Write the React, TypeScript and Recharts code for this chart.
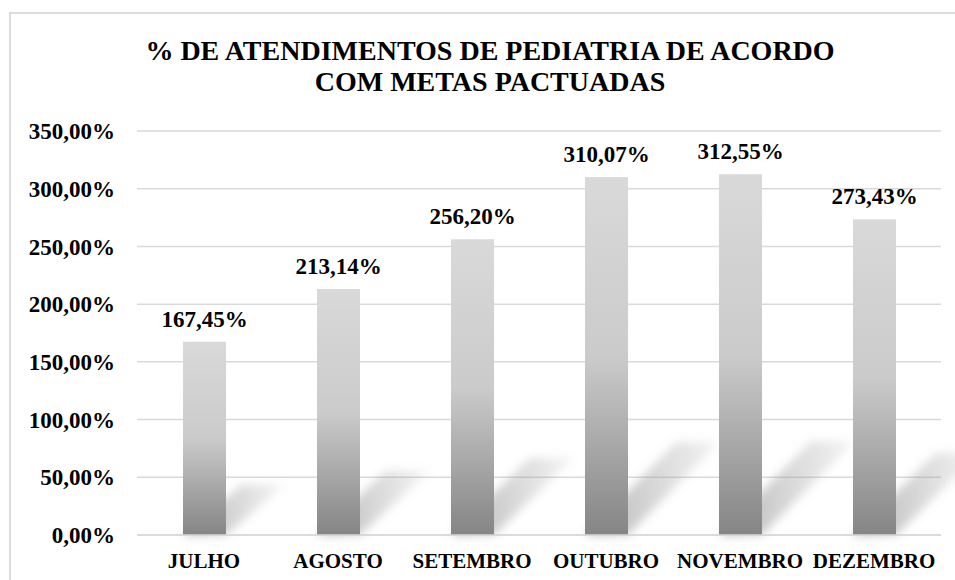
import { BarChart, Bar, XAxis, YAxis, CartesianGrid, LabelList } from 'recharts';

const months = ['JULHO', 'AGOSTO', 'SETEMBRO', 'OUTUBRO', 'NOVEMBRO', 'DEZEMBRO'];
const percentages = [167.45, 213.14, 256.2, 310.07, 312.55, 273.43];
const yTicks = [0, 50, 100, 150, 200, 250, 300, 350];

const data = months.map((month, i) => ({ month, value: percentages[i] }));

const serif = 'Liberation Serif, DejaVu Serif, serif';

const fmt = (v: number) => v.toFixed(2).replace('.', ',') + '%';

// bar with a soft diagonal shadow behind it
function ShadowBar(props: any) {
  const { x, y, width, height } = props;
  if (!height) return null;
  const bottom = y + height;
  const dx = 20 + height * 0.2;
  const dy = height * 0.26;
  const pts = [
    `${x},${bottom}`,
    `${x + width},${bottom}`,
    `${x + width + dx},${bottom - dy}`,
    `${x + dx},${bottom - dy}`,
  ].join(' ');
  return (
    <g>
      <polygon points={pts} fill="url(#shadowGrad)" filter="url(#shadowBlur)" />
      <rect x={x} y={y} width={width} height={height} fill="url(#barGrad)" />
    </g>
  );
}

export default function App() {
  return (
    <div style={{ position: 'absolute', left: 0, top: 0, width: 955, height: 580, overflow: 'hidden', background: '#fff' }}>
      <div
        style={{
          position: 'absolute',
          left: 9,
          top: 12,
          width: 1000,
          height: 620,
          border: '2px solid #dcdcdc',
          boxSizing: 'border-box',
        }}
      />
      <div
        style={{
          position: 'absolute',
          left: 25,
          top: 35,
          width: 930,
          textAlign: 'center',
          fontFamily: serif,
          fontWeight: 700,
          fontSize: 28,
          lineHeight: '31px',
          color: '#000',
        }}
      >
        % DE ATENDIMENTOS DE PEDIATRIA DE ACORDO
        <br />
        COM METAS PACTUADAS
      </div>
      <div style={{ position: 'absolute', left: 0, top: 0 }}>
        <BarChart width={955} height={580} data={data} margin={{ top: 131, right: 14, left: 0, bottom: 0 }} barSize={43}>
          <defs>
            <linearGradient id="barGrad" x1="0" y1="0" x2="0" y2="1">
              <stop offset="0%" stopColor="#d9d9d9" />
              <stop offset="50%" stopColor="#cbcbcb" />
              <stop offset="100%" stopColor="#858585" />
            </linearGradient>
            <linearGradient id="shadowGrad" x1="0" y1="0" x2="1" y2="0">
              <stop offset="0%" stopColor="#7f7f7f" stopOpacity={0.6} />
              <stop offset="100%" stopColor="#9f9f9f" stopOpacity={0.12} />
            </linearGradient>
            <filter id="shadowBlur" x="-20%" y="-30%" width="140%" height="160%">
              <feGaussianBlur stdDeviation="5" />
            </filter>
          </defs>
          <CartesianGrid vertical={false} stroke="#d9d9d9" strokeWidth={1.5} />
          <XAxis
            dataKey="month"
            height={45}
            tickLine={false}
            tickSize={0}
            tickMargin={18}
            axisLine={{ stroke: '#d9d9d9', strokeWidth: 1.5 }}
            tick={{ fill: '#000', fontSize: 21, fontWeight: 700, fontFamily: serif }}
            interval={0}
          />
          <YAxis
            width={137}
            domain={[0, 350]}
            ticks={yTicks}
            tickFormatter={fmt}
            tickLine={false}
            tickSize={0}
            tickMargin={22}
            axisLine={false}
            tick={{ fill: '#000', fontSize: 23, fontWeight: 700, fontFamily: serif }}
          />
          <Bar dataKey="value" shape={ShadowBar} isAnimationActive={false}>
            <LabelList
              dataKey="value"
              position="top"
              offset={15}
              formatter={(v: any) => fmt(Number(v))}
              fill="#000"
              fontSize={23}
              fontWeight={700}
              fontFamily={serif}
            />
          </Bar>
        </BarChart>
      </div>
    </div>
  );
}
